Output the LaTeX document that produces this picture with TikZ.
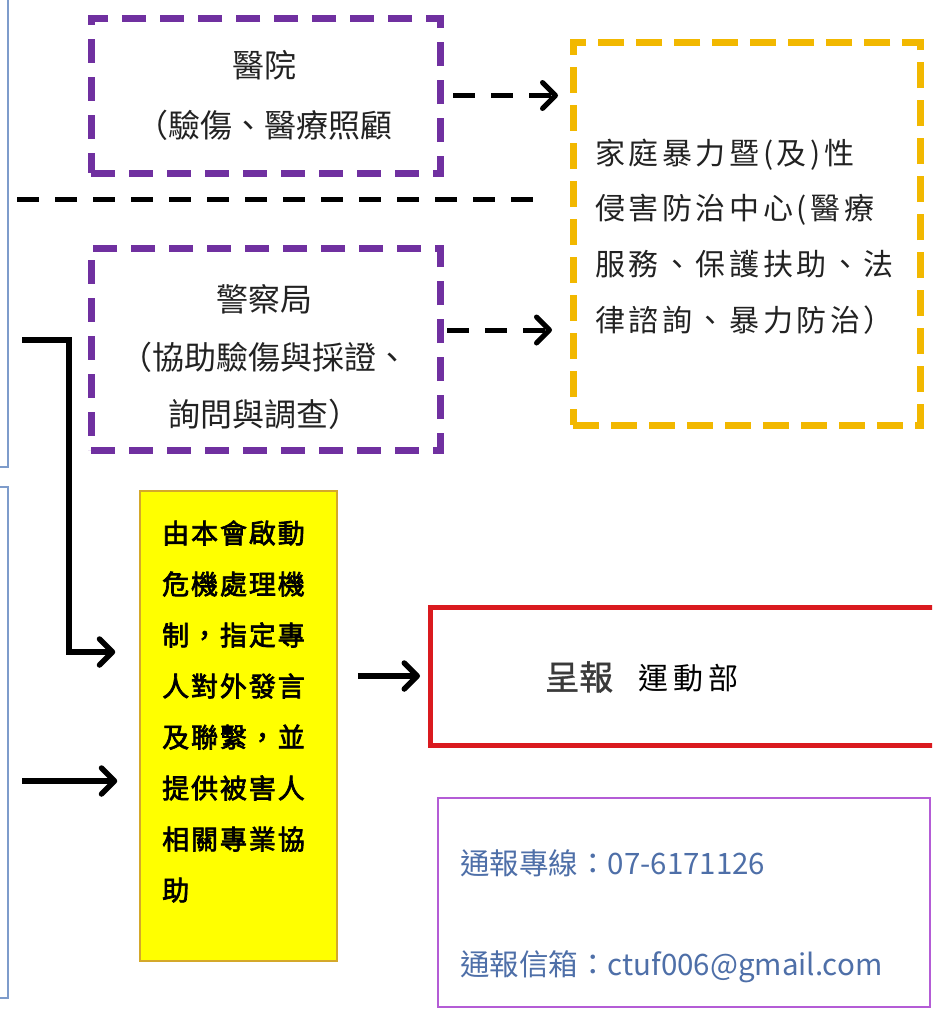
\documentclass[tikz,border=0pt]{standalone}
\usepackage{fontspec}
\setmainfont{Noto Sans CJK TC}
\newfontfamily\fA{Noto Sans CJK TC}
\newfontfamily\fB[LetterSpace=12]{Noto Sans CJK TC}
\newfontfamily\fC[LetterSpace=7,FakeBold=2.5]{Noto Sans CJK TC}
\newfontfamily\fD[LetterSpace=18]{Noto Sans CJK TC}
\newfontfamily\fE[FakeBold=1]{Noto Sans CJK TC}
\usetikzlibrary{arrows.meta,calc}
\definecolor{ppl}{HTML}{7030A0}
\definecolor{gld}{HTML}{F2B800}
\definecolor{ylw}{HTML}{FFFF00}
\definecolor{ylwb}{HTML}{D4A82A}
\definecolor{rd}{HTML}{DA1A1F}
\definecolor{vio}{HTML}{B45CD6}
\definecolor{blb}{HTML}{7E9CCB}
\definecolor{txtg}{HTML}{222222}
\definecolor{rptg}{HTML}{3A3A3A}
\definecolor{bluet}{HTML}{4E6FA8}
\tikzset{
  pbox/.style={draw=ppl, line width=7pt, dash pattern=on 24pt off 14pt, inner sep=0pt},
  ybox/.style={draw=gld, line width=7pt, dash pattern=on 26pt off 12pt, inner sep=0pt},
  bluebox/.style={draw=blb, line width=2pt, inner sep=0pt},
  crisisbox/.style={draw=ylwb, fill=ylw, line width=1.5pt, inner sep=0pt},
  reportbox/.style={draw=rd, line width=5pt, inner sep=0pt},
  contactbox/.style={draw=vio, line width=2pt, inner sep=0pt},
  dline/.style={line width=5pt, dash pattern=on 22pt off 16pt},
  sline/.style={line width=5.5pt},
  tipa/.style={-{Straight Barb[length=13pt,width=26pt,round]}},
  txt/.style={inner sep=0pt},
}
\begin{document}
\begin{tikzpicture}[x=1pt,y=1pt]
\useasboundingbox (0,0) rectangle (932,-1009);
\fill[white] (0,0) rectangle (932,-1009);
\clip (0,0) rectangle (932,-1009);

% left partial boxes
\node[bluebox, minimum width=38pt, minimum height=477pt] (leftA) at (-11,-228.5) {};
\node[bluebox, minimum width=38pt, minimum height=511pt] (leftB) at (-11,-742.5) {};

% purple dashed boxes
\node[pbox, minimum width=349pt, minimum height=155pt] (hosp) at (265.5,-95.5) {};
\node[txt, text=txtg, align=center, font=\fA\fontsize{32pt}{60pt}\selectfont] (hospt) at (264,-95) {醫院\\（驗傷、醫療照顧};

\node[pbox, minimum width=349pt, minimum height=202pt] (police) at (265.5,-349) {};
\node[txt, text=txtg, align=center, font=\fA\fontsize{32pt}{57.5pt}\selectfont] (policet) at (264,-357.5) {警察局\\（協助驗傷與採證、\\詢問與調查）};

% gold dashed box
\node[ybox, minimum width=347pt, minimum height=383pt] (center) at (746.5,-233.5) {};
\node[txt, text=txtg, align=left, anchor=west, font=\fB\fontsize{30pt}{55.7pt}\selectfont] (centert) at (595,-236.5) {家庭暴力暨(及)性\\侵害防治中心(醫療\\服務、保護扶助、法\\律諮詢、暴力防治）};

% yellow crisis box
\node[crisisbox, minimum width=197pt, minimum height=470pt] (crisis) at (238.5,-726) {};
\node[txt, align=left, anchor=west, font=\fC\fontsize{27pt}{51pt}\selectfont] (crisist) at (162,-711.5) {由本會啟動\\危機處理機\\制，指定專\\人對外發言\\及聯繫，並\\提供被害人\\相關專業協\\助};

% red report box
\node[reportbox, minimum width=530pt, minimum height=138pt] (report) at (695,-676) {};
\node[txt, anchor=west] (reportt) at (545,-677) {{\fE\fontsize{34pt}{40pt}\selectfont\color{rptg}呈報}\hspace{25pt}{\fD\fontsize{30pt}{40pt}\selectfont 運動部}};

% contact box
\node[contactbox, minimum width=492pt, minimum height=209pt] (contact) at (684,-902.5) {};
\node[txt, anchor=west, text=bluet, font=\fA\fontsize{29.5pt}{35pt}\selectfont] (tel) at (460,-863) {通報專線：07-6171126};
\node[txt, anchor=west, text=bluet, font=\fA\fontsize{29.5pt}{35pt}\selectfont] (mail) at (460,-967) {通報信箱：ctuf006@gmail.com};

% connectors
\coordinate (dl) at (17,-199);
\coordinate (dr) at (538,-199);
\draw[dline] (dl) -- (dr);

\draw[dline, tipa, shorten <=9.5pt, shorten >=11.5pt] (hosp.east) -- (hosp.east -| center.west);
\draw[dline, tipa, shorten <=3.5pt, shorten >=17.5pt] ([yshift=19pt]police.east) -- ([yshift=19pt]police.east -| center.west);

\coordinate (e0) at (22,-340);
\coordinate (ebend) at (69,-340);
\draw[sline, tipa, shorten >=24pt, line join=miter] (e0) -- (ebend) |- ([yshift=74pt]crisis.west);

\coordinate (a0) at (22,-781);
\draw[sline, tipa, shorten >=22pt] (a0) -- (a0 -| crisis.west);

\draw[sline, tipa, shorten <=20pt, shorten >=7.5pt] (crisis.east |- report.west) -- (report.west);
\end{tikzpicture}
\end{document}
